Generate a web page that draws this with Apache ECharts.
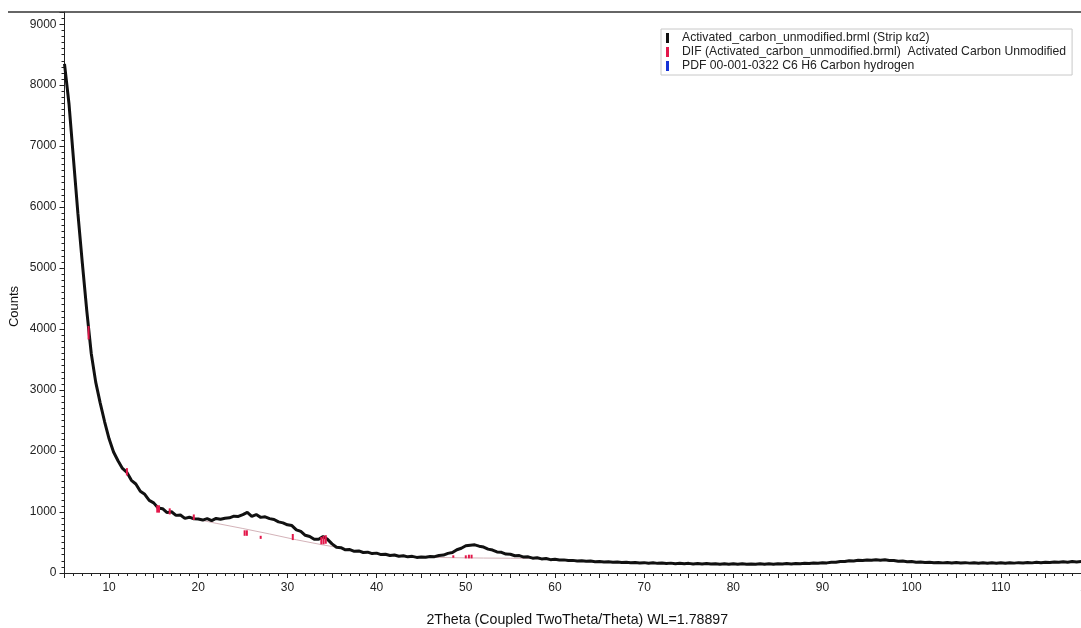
<!DOCTYPE html>
<html>
<head>
<meta charset="utf-8">
<script src="https://cdn.jsdelivr.net/npm/echarts@6/dist/echarts.min.js"></script>
<style>
  html, body { margin: 0; padding: 0; background: #fff; }
  #chart { width: 1081px; height: 628px; }
</style>
</head>
<body>
<div id="chart"></div>
<script>
// Scan grid: 2Theta from 5° in 0.5° steps
const scanStart = 5;
const scanStep = 0.5;

// Measured counts along the scan (5° … 119°)
const counts = [
  8350, 7700, 6800, 5900, 5080, 4300, 3600, 3130, 2790, 2480,
  2200, 1985, 1840, 1715, 1650, 1520, 1460, 1340, 1290, 1190,
  1150, 1065, 1055, 990, 1005, 945, 950, 895, 915, 890,
  885, 868, 892, 858, 895, 882, 898, 905, 932, 928,
  958, 995, 930, 958, 912, 922, 892, 878, 838, 822,
  790, 778, 708, 682, 618, 598, 552, 552, 598, 552,
  478, 422, 415, 380, 385, 355, 362, 336, 342, 318,
  326, 302, 308, 286, 296, 274, 284, 265, 273, 256,
  263, 257, 270, 268, 288, 294, 322, 336, 382, 405,
  446, 456, 462, 440, 426, 392, 376, 346, 340, 310,
  307, 283, 285, 261, 265, 243, 251, 231, 238, 219,
  224, 212, 215, 204, 207, 196, 201, 191, 195, 186,
  189, 180, 185, 176, 180, 172, 178, 168, 173, 164,
  170, 161, 167, 158, 164, 156, 162, 153, 159, 151,
  158, 149, 156, 148, 155, 146, 153, 145, 152, 144,
  151, 143, 150, 142, 149, 142, 150, 143, 151, 144,
  152, 146, 154, 149, 157, 152, 160, 155, 164, 160,
  169, 166, 178, 176, 190, 188, 201, 198, 209, 204,
  214, 208, 218, 210, 216, 205, 206, 194, 196, 184,
  187, 177, 181, 172, 177, 168, 174, 166, 172, 164,
  171, 163, 170, 162, 169, 161, 169, 161, 168, 161,
  168, 161, 169, 162, 170, 164, 172, 166, 175, 169,
  178, 172, 181, 175, 184, 178, 187, 181, 190
];

// DIF peak sticks: [2Theta, low count, high count]
const difPeaks = [
  [7.7, 3830, 4050],
  [12.0, 1600, 1720],
  [15.4, 990, 1110],
  [15.6, 990, 1110],
  [16.8, 960, 1060],
  [19.5, 870, 960],
  [25.2, 610, 700],
  [25.45, 610, 700],
  [27.0, 560, 610],
  [30.6, 540, 640],
  [33.8, 470, 590],
  [34.05, 470, 610],
  [34.3, 480, 620],
  [48.6, 250, 290],
  [50.0, 240, 290],
  [50.35, 240, 300],
  [50.65, 240, 300]
];

// Fitted background under the amorphous humps
const backgroundLow = [[20.5, 860], [22, 815], [25, 730], [28, 640], [31, 545], [34, 460], [36, 410]];
const backgroundHigh = [[45.5, 258], [48, 252], [50, 248], [52, 245], [55, 242], [58, 238]];

const seriesNames = [
  'Activated_carbon_unmodified.brml (Strip kα2)',
  'DIF (Activated_carbon_unmodified.brml)  Activated Carbon Unmodified',
  'PDF 00-001-0322 C6 H6 Carbon hydrogen'
];
const seriesColors = ['#111111', '#e3174a', '#1633d6'];

const xAxisTitle = '2Theta (Coupled TwoTheta/Theta) WL=1.78897';
const yAxisTitle = 'Counts';

const scan = counts.map((c, i) => [scanStart + i * scanStep, c]);

const font = "'Liberation Sans', Arial, sans-serif";
const axisColor = '#222';

const chart = echarts.init(document.getElementById('chart'), null, { renderer: 'canvas' });

chart.setOption({
  animation: false,
  backgroundColor: '#fff',
  textStyle: { fontFamily: font },
  grid: { left: 64.5, right: -9, top: 12, bottom: 55, containLabel: false, outerBoundsMode: 'none' },
  graphic: [{
    type: 'line',
    shape: { x1: 8, y1: 12, x2: 1081, y2: 12 },
    style: { stroke: '#333', lineWidth: 1.5 },
    z: 10
  }],
  legend: {
    orient: 'vertical',
    left: 661,
    top: 29,
    padding: [3, 6, 3, 5],
    itemGap: 2,
    itemWidth: 3,
    itemHeight: 10,
    borderColor: '#c8c8c8',
    borderWidth: 1,
    backgroundColor: '#fff',
    selectedMode: false,
    textStyle: { fontFamily: font, fontSize: 12.2, color: '#222', padding: [0, 0, 0, 8] },
    data: seriesNames.map((n, i) => ({ name: n, icon: 'rect', itemStyle: { color: seriesColors[i] } }))
  },
  xAxis: {
    type: 'value',
    min: 5,
    max: 120,
    interval: 5,
    name: xAxisTitle,
    nameLocation: 'middle',
    nameGap: 40,
    nameTextStyle: { fontFamily: font, fontSize: 14.2, color: '#111' },
    axisLine: { show: true, onZero: false, lineStyle: { color: axisColor, width: 1 } },
    axisTick: { show: true, length: 5, lineStyle: { color: axisColor } },
    minorTick: { show: true, splitNumber: 5, length: 3, lineStyle: { color: axisColor } },
    splitLine: { show: false },
    axisLabel: {
      fontFamily: font, fontSize: 12, color: '#222', margin: 9,
      formatter: v => (v % 10 === 0 ? String(v) : '')
    }
  },
  yAxis: {
    type: 'value',
    min: 0,
    max: 9200,
    interval: 1000,
    name: yAxisTitle,
    nameLocation: 'middle',
    nameGap: 44,
    nameMoveOverlap: false,
    nameTextStyle: { fontFamily: font, fontSize: 13, color: '#111', padding: [0, 28, 0, 0] },
    axisLine: { show: true, lineStyle: { color: axisColor, width: 1 } },
    axisTick: { show: true, length: 5, lineStyle: { color: axisColor } },
    minorTick: { show: true, splitNumber: 10, length: 3, lineStyle: { color: axisColor } },
    splitLine: { show: false },
    axisLabel: {
      fontFamily: font, fontSize: 12, color: '#222', margin: 8,
      formatter: v => (v % 1000 === 0 ? String(v) : '')
    }
  },
  series: [
    {
      name: 'background-low',
      type: 'line',
      data: backgroundLow,
      symbol: 'none',
      lineStyle: { color: '#d4b3b9', width: 1 },
      z: 1
    },
    {
      name: 'background-high',
      type: 'line',
      data: backgroundHigh,
      symbol: 'none',
      lineStyle: { color: '#d4b3b9', width: 1 },
      z: 1
    },
    {
      name: seriesNames[0],
      type: 'line',
      data: scan,
      symbol: 'none',
      itemStyle: { color: seriesColors[0] },
      lineStyle: { color: seriesColors[0], width: 3 },
      z: 2
    },
    {
      name: seriesNames[1],
      type: 'custom',
      data: difPeaks,
      encode: { x: 0, y: [1, 2] },
      itemStyle: { color: seriesColors[1] },
      renderItem: (params, api) => {
        const lo = api.coord([api.value(0), api.value(1)]);
        const hi = api.coord([api.value(0), api.value(2)]);
        return {
          type: 'line',
          shape: { x1: lo[0], y1: lo[1], x2: hi[0], y2: hi[1] },
          style: { stroke: seriesColors[1], lineWidth: 2 }
        };
      },
      z: 3
    },
    {
      name: seriesNames[2],
      type: 'line',
      data: [],
      symbol: 'none',
      itemStyle: { color: seriesColors[2] },
      lineStyle: { color: seriesColors[2] }
    }
  ]
});
</script>
</body>
</html>
